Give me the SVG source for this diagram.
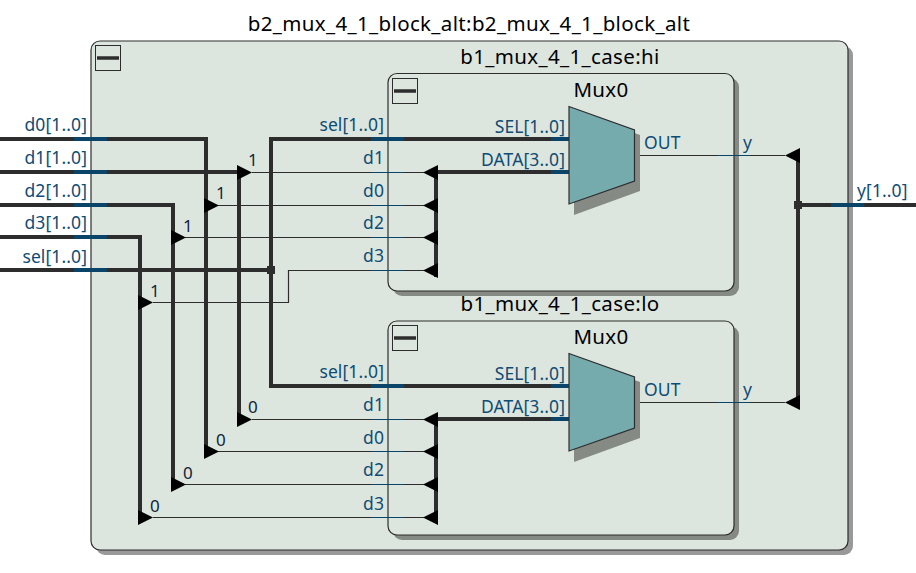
<svg xmlns="http://www.w3.org/2000/svg" width="916" height="573" viewBox="0 0 916 573">
<style>
text{font-family:"Noto Sans","Open Sans",sans-serif;font-size:17.5px;letter-spacing:.1px;fill:#0f4c75}
.t{fill:#000;font-size:20.500px;letter-spacing:.35px}
.n{fill:#10243a;font-size:17px}
.box{fill:#dde6de;stroke:#2d2d2d;stroke-width:1.2}
.sh{fill:#999}
.sh2{fill:#858a85}
.btn{fill:none;stroke:#2d2d2d;stroke-width:1}
.bar{stroke:#2d2d2d;stroke-width:3.500}
.w{fill:none;stroke:#2d2d2d;stroke-width:4}
.f{fill:none;stroke:#2d2d2d;stroke-width:1.200}
.pb{fill:none;stroke:#0a4468;stroke-width:4}
.pf{fill:none;stroke:#0a4468;stroke-width:1.200}
.a{fill:#000}
.mux{fill:#76abae;stroke:#2d2d2d;stroke-width:1.200}
.e{text-anchor:end}
</style>
<g id="top">
<rect class="sh" x="96" y="46" width="757" height="509" rx="9"/>
<rect class="box" x="91" y="41" width="757" height="509" rx="9"/>
<rect class="btn" x="95.500" y="45.500" width="25" height="25"/>
<line class="bar" x1="97" y1="58" x2="119" y2="58"/>
<text class="t" x="469" y="31" text-anchor="middle">b2_mux_4_1_block_alt:b2_mux_4_1_block_alt</text>
</g>
<g id="hi">
<rect class="sh2" x="393" y="78" width="346" height="218" rx="9"/>
<rect class="box" x="388" y="73.500" width="346" height="217.500" rx="9"/>
<rect class="btn" x="392.500" y="78.500" width="25" height="25"/>
<line class="bar" x1="394" y1="91" x2="416" y2="91"/>
<text class="t" x="560" y="64" text-anchor="middle">b1_mux_4_1_case:hi</text>
</g>
<g id="lo">
<rect class="sh2" x="393" y="326" width="346" height="214" rx="9"/>
<rect class="box" x="388" y="321" width="346" height="214" rx="9"/>
<rect class="btn" x="392.500" y="325.500" width="25" height="25"/>
<line class="bar" x1="394" y1="338" x2="416" y2="338"/>
<text class="t" x="560" y="311" text-anchor="middle">b1_mux_4_1_case:lo</text>
</g>
<g id="connectors">
<path class="w" d="M0 139H206V452M0 172H239V420M0 205H173V485M0 237H140V518M0 270H271M271 270V139H569M271 270V386H569M569 172H436V277M569 419H436V522M798 155V402M798 205H916"/>
<path class="f" d="M252 172.500H425M218 205.500H425M185 237.500H425M153 302.500H288.500V270.500H425M635 155.500H785M252 419.500H425M218 451.500H425M185 484.500H425M153 517.500H425M635 402.500H785"/>
<path class="pb" d="M74 139H107M74 172H107M74 205H107M74 237H107M74 270H107M831 205H864M371 139H404M371 386H404M551 139H569M551 172H569M551 386H569M551 419H569"/>
<path class="pf" d="M371 172.500H404M371 205.500H404M371 237.500H404M371 270.500H404M371 419.500H404M371 451.500H404M371 484.500H404M371 517.500H404M717 155.500H750M717 402.500H750"/>
<rect x="267" y="266" width="8" height="8" fill="#2d2d2d"/>
<rect x="794" y="201" width="8" height="8" fill="#2d2d2d"/>
<g class="a">
<path d="M237 165L252 172.500L237 180Z"/><path d="M204 198L219 205.500L204 213Z"/><path d="M171 230L186 237.500L171 245Z"/><path d="M138 295L153 302.500L138 310Z"/>
<path d="M237 412L252 419.500L237 427Z"/><path d="M204 444L219 451.500L204 459Z"/><path d="M171 477L186 484.500L171 492Z"/><path d="M138 510L153 517.500L138 525Z"/>
<path d="M438 165L423 172.500L438 180Z"/><path d="M438 198L423 205.500L438 213Z"/><path d="M438 230L423 237.500L438 245Z"/><path d="M438 263L423 270.500L438 278Z"/>
<path d="M438 412L423 419.500L438 427Z"/><path d="M438 444L423 451.500L438 459Z"/><path d="M438 477L423 484.500L438 492Z"/><path d="M438 510L423 517.500L438 525Z"/>
<path d="M800 148L785 155.500L800 163Z"/><path d="M800 395L785 402.500L800 410Z"/>
</g>
</g>
<g id="mux_hi">
<path class="sh2" d="M574 111L640 135V191L574 215Z"/>
<path class="mux" d="M569 106.500L634.500 130V181L569 204Z"/>
<text class="t" x="601" y="97" text-anchor="middle">Mux0</text>
</g>
<g id="mux_lo">
<path class="sh2" d="M574 358L640 382V438L574 462Z"/>
<path class="mux" d="M569 353.500L634.500 377V428L569 451Z"/>
<text class="t" x="601" y="344" text-anchor="middle">Mux0</text>
</g>
<g id="labels">
<text class="e" x="87" y="131">d0[1..0]</text><text class="e" x="87" y="164">d1[1..0]</text><text class="e" x="87" y="197">d2[1..0]</text><text class="e" x="87" y="229">d3[1..0]</text><text class="e" x="87" y="263">sel[1..0]</text>
<text x="857" y="197">y[1..0]</text>
<text class="e" x="384" y="131">sel[1..0]</text><text class="e" x="384" y="164">d1</text><text class="e" x="384" y="197">d0</text><text class="e" x="384" y="229">d2</text><text class="e" x="384" y="262">d3</text>
<text class="e" x="384" y="378">sel[1..0]</text><text class="e" x="384" y="411">d1</text><text class="e" x="384" y="444">d0</text><text class="e" x="384" y="476">d2</text><text class="e" x="384" y="510">d3</text>
<text class="e" x="565" y="133">SEL[1..0]</text><text class="e" x="565" y="166">DATA[3..0]</text><text class="e" x="565" y="380">SEL[1..0]</text><text class="e" x="565" y="413">DATA[3..0]</text>
<text x="644" y="149">OUT</text><text x="644" y="396">OUT</text><text x="743" y="149">y</text><text x="743" y="396">y</text>
<text class="n" x="248" y="166">1</text><text class="n" x="216" y="199">1</text><text class="n" x="183" y="232">1</text><text class="n" x="150" y="297">1</text>
<text class="n" x="248" y="413">0</text><text class="n" x="216" y="446">0</text><text class="n" x="183" y="479">0</text><text class="n" x="150" y="512">0</text>
</g>
</svg>
